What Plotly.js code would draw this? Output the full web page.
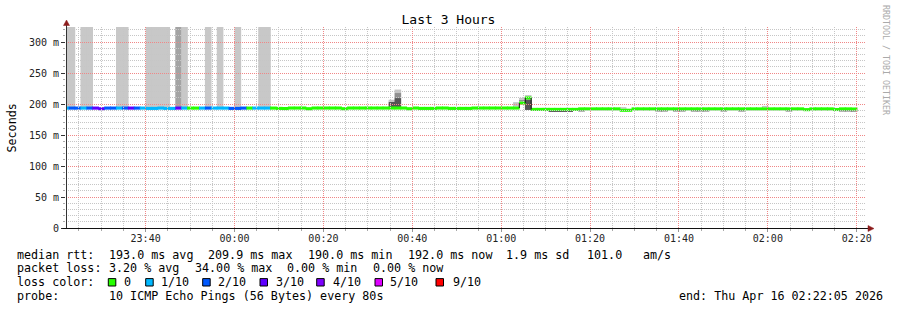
<!DOCTYPE html>
<html><head><meta charset="utf-8">
<script src="https://cdn.plot.ly/plotly-3.0.1.min.js"></script>
<style>html,body{margin:0;padding:0;background:#fff;}#chart{width:897px;height:310px;}</style>
</head><body><div id="chart"></div>
<script>
// ---- data (80 s steps, sample i ends at sampleEnd0 + i*80 s) ----
const sampleEnd0 = '2026-04-15T23:22:45Z';
const stepSeconds = 80;
const viewStart = '2026-04-15T23:22:05Z';
const viewEnd = '2026-04-16T02:22:05Z';

const medianRtt = [
 193.5,193.5,193.5,193.5,193.5,193.5,192.5,193.5,193.5,193.5,
 193.5,193.5,193.5,193.5,193,193,193.5,193,193,193.5,
 193.5,193.5,193.5,193.5,193.5,193.5,193.5,193.5,193,193,
 193.5,193.5,193.5,193.5,193.5,193.5,193,192.8,193.6,193.6,
 193.6,192.5,193.6,193.6,193.6,193.6,193.6,192.5,193.6,193.6,
 193.6,193.6,193.6,193.6,193.6,193.6,193.6,193.6,192.5,193.6,
 193,193,193,193.6,193.6,193,193,193,193,193.6,
 193.6,193.6,193.6,193.6,193.6,193.6,193.6,201.5,209.9,191.4,
 191.4,191.4,191.4,191.4,191.4,191.4,191.4,192.2,192.2,192.2,
 192.2,192.2,192.2,192.2,190,190,192.2,192.2,192.2,192.2,
 192.2,192.2,192.2,192.2,192.2,192.2,192.2,192.2,192.2,192.2,
 192.2,192.2,192.2,192.2,192.2,192.2,192.2,192.2,192.2,192.2,
 192.2,192.2,192.2,192.2,192.2,191,192.2,192.2,192.2,192.2,
 191.2,192.2,192.2,192
];
const lossCount = [
 1,2,2,1,2,3,3,2,2,1,
 2,3,2,1,1,1,1,1,1,3,
 1,0,0,1,2,1,1,1,2,2,
 2,0,1,1,1,0,0,0,0,0,
 0,0,0,0,0,0,0,0,0,0, 0,0,0,0,0,0,0,0,0,0,
 0,0,0,0,0,0,0,0,0,0, 0,0,0,0,0,0,0,0,0,0,
 0,0,0,0,0,0,0,0,0,0, 0,0,0,0,0,0,0,0,0,0,
 0,0,0,0,0,0,0,0,0,0, 0,0,0,0,0,0,0,0,0,0,
 0,0,0,0,0,0,0,0,0,0, 0,0,0,0
];
const lossLevels = [0,1,2,3,4,5,9];
const lossColors = ['#26ff00','#00b8ff','#0059ff','#5e00ff','#7e00ff','#dd00ff','#ff0000'];
const lossLabels = ['0','1/10','2/10','3/10','4/10','5/10','9/10'];

// smoke (ping spread) segments
const smokeIndex = [0,1,3,4,9,10,14,15,16,17,19,20,24,26,29,33,34,
  55,55,56,56,56,76,77,77,78,78,
  82,83,84,85,87,100,101,103,104,106,107,108,111,114,122,131,132,133,94,118];
const smokeLow = [195,195,195,195,195,195,195,195,195,195,195,195,195,195,195,195,195,
  195,203.7,195,209.7,217.8,196,204,207,190.5,212.4,
  187.3,187.3,187.3,187.3,188.1,188.1,188.1,188.1,188.1,188.1,188.1,188.1,188.1,188.1,188.1,188.1,188.1,187.9,192.5,194.7];
const smokeHigh = [330,330,330,330,330,330,330,330,330,330,330,330,330,330,330,330,330,
  203.7,207,209.7,217.8,223.4,203,207,210,207.4,214.5,
  189,189,189,189,189.8,189.8,189.8,189.8,189.8,189.8,189.8,189.8,189.8,189.8,189.8,189.8,189.8,189.6,195,197];
const smokeTone = ['loss','loss','loss','loss','loss','loss','loss','loss','loss','loss','lossDark','loss','loss','loss','loss','loss','loss',
  'dark','light','dark','mid','light','light','mid','light','dark','light',
  'dark','dark','dark','dark','dark','dark','dark','dark','dark','dark','dark','dark','dark','dark','dark','dark','dark','dark','light','light'];
const toneColor = {loss:'#c8c8c8', lossDark:'#a3a3a3', light:'#c4c4c4', mid:'#8f8f8f', dark:'#555555'};

const yTickVals = [0,50,100,150,200,250,300];
const yTickText = ['0','50 m','100 m','150 m','200 m','250 m','300 m'];

const statRows = [
  [['median rtt:',16],['193.0 ms avg',107.5],['209.9 ms max',207],['190.0 ms min',306.7],['192.0 ms now',406.5],['1.9 ms sd',505],['101.0',586],['am/s',642]],
  [['packet loss:',16],['3.20 % avg',107.5],['34.00 % max',193.5],['0.00 % min',286],['0.00 % now',372]],
  [['loss color:',16]],
  [['probe:',16],['10 ICMP Echo Pings (56 Bytes) every 80s',107.5],['end: Thu Apr 16 02:22:05 2026',677.7]]
];
const rowY = [255,268.3,282.3,296];
const boxX = [108.3,145.7,202.7,260,316.7,375,436];
const boxLabelX = [123.3,160,217.3,275.3,332.3,389.3,451.7];

// ---- build ----
const T0 = Date.parse(sampleEnd0);
const stepMs = stepSeconds*1000;
const xc = medianRtt.map((_, i) => T0 + (i - 0.5)*stepMs);
function lossColor(c){ let k=0; lossLevels.forEach((l,j)=>{ if(c>=l) k=j; }); return lossColors[k]; }

const L=66, W=800, TOP=27, BOT=228, H=BOT-TOP;
const yMax = H/0.6197;
const vs = Date.parse(viewStart), ve = Date.parse(viewEnd);
const px = x => (x-L)/W, py = y => (BOT-y)/H;
const MONO = 'DejaVu Sans Mono';

const smokeTrace = {
  type:'bar', x: smokeIndex.map(i=>xc[i]), base: smokeLow, y: smokeLow.map((lo,k)=>smokeHigh[k]-lo),
  width: stepMs*1.12, marker:{color: smokeTone.map(t=>toneColor[t]), line:{width:0}}, hoverinfo:'skip'
};
const bandHalf = 2.5;
const bandTrace = {
  type:'bar', x: xc, base: medianRtt.map(v=>v-bandHalf), y: medianRtt.map(()=>2*bandHalf),
  width: stepMs*1.12, marker:{color: lossCount.map(lossColor), line:{width:0}}, hoverinfo:'skip'
};
const cx=[], cy=[];
for(let i=1;i<medianRtt.length;i++){
  if(Math.abs(medianRtt[i]-medianRtt[i-1])>4){
    const xb = T0 + (i-1)*stepMs;
    cx.push(xb,xb,null); cy.push(medianRtt[i-1],medianRtt[i],null);
  }
}
const connTrace = {type:'scatter', mode:'lines', x:cx, y:cy, line:{color:'#111', width:1}, hoverinfo:'skip'};

// grid (drawn on top of the data, as rrdtool does), snapped to whole pixels
const gridX = [];
for(let t=Date.parse('2026-04-15T23:25:00Z'); t<=ve; t+=300000) gridX.push(t);
const isMajorX = t => new Date(t).getUTCMinutes() % 20 === 0;
const gridY = [];
for(let v=10; v<=yMax; v+=10) gridY.push(v);
const isMajorY = v => v % 50 === 0;
const gx = t => { const p = L + (t-vs)/(ve-vs)*W; return (Math.floor(p)+0.5-L)/W; };
const gy = v => { const p = BOT - v/yMax*H; return (BOT-(Math.floor(p)+0.5))/H; };
const minorGrid = 'rgb(198,198,198)', majorGrid = 'rgb(240,135,135)';

const shapes = [];
const hLine = (v,c) => ({type:'line', layer:'above', xref:'paper', yref:'paper', x0:0, x1:1, y0:gy(v), y1:gy(v), line:{color:c, width:1, dash:'1px,1px'}});
const vLine = (t,c) => ({type:'line', layer:'above', xref:'paper', yref:'paper', x0:gx(t), x1:gx(t), y0:0, y1:1, line:{color:c, width:1, dash:'1px,1px'}});
gridY.filter(v=>!isMajorY(v)).forEach(v=>shapes.push(hLine(v, minorGrid)));
gridX.filter(t=>!isMajorX(t)).forEach(t=>shapes.push(vLine(t, minorGrid)));
gridY.filter(isMajorY).forEach(v=>shapes.push(hLine(v, majorGrid)));
gridX.filter(isMajorX).forEach(t=>shapes.push(vLine(t, majorGrid)));

lossColors.forEach((c,k)=>shapes.push({type:'rect', xref:'paper', yref:'paper',
  x0:px(boxX[k]), x1:px(boxX[k]+7.5), y0:py(rowY[2]+3.7), y1:py(rowY[2]-3.7),
  fillcolor:c, line:{color:'#000', width:1}}));
// axes and arrows
shapes.push({type:'line', xref:'paper', yref:'paper', x0:px(66.5), x1:px(66.5), y0:py(BOT), y1:py(23), line:{color:'#333', width:1}});
shapes.push({type:'line', xref:'paper', yref:'paper', x0:px(62.5), x1:px(869), y0:py(BOT+0.5), y1:py(BOT+0.5), line:{color:'#111', width:1}});
const arrowColor = '#8c1c1c';
shapes.push({type:'path', xref:'paper', yref:'paper',
  path:`M ${px(63.5)} ${py(25.5)} L ${px(69.5)} ${py(25.5)} L ${px(66.5)} ${py(20)} Z`, fillcolor:arrowColor, line:{color:arrowColor, width:0.5}});
shapes.push({type:'path', xref:'paper', yref:'paper',
  path:`M ${px(868)} ${py(225.5)} L ${px(868)} ${py(231.5)} L ${px(874)} ${py(228.5)} Z`, fillcolor:arrowColor, line:{color:arrowColor, width:0.5}});

const annotations = [];
statRows.forEach((row,r)=>row.forEach(([t,x])=>annotations.push({
  text:t, xref:'paper', yref:'paper', x:px(x), y:py(rowY[r]), xanchor:'left', yanchor:'middle',
  showarrow:false, borderpad:0, font:{family:MONO, size:11.7, color:'#000'}
})));
lossLabels.forEach((t,k)=>annotations.push({
  text:t, xref:'paper', yref:'paper', x:px(boxLabelX[k]), y:py(rowY[2]), xanchor:'left', yanchor:'middle',
  showarrow:false, borderpad:0, font:{family:MONO, size:11.7, color:'#000'}
}));
annotations.push({text:'Seconds', xref:'paper', yref:'paper', x:px(11), y:py(127.5), textangle:-90,
  xanchor:'center', yanchor:'middle', showarrow:false, font:{family:MONO, size:11.7, color:'#000'}});
annotations.push({text:'RRDTOOL / TOBI OETIKER', xref:'paper', yref:'paper', x:px(886), y:py(60), textangle:90,
  xanchor:'center', yanchor:'middle', showarrow:false, font:{family:MONO, size:8.3, color:'#aaaaaa'}});

const layout = {
  width:897, height:310, margin:{l:L, r:897-L-W, t:TOP, b:310-BOT, pad:0},
  paper_bgcolor:'#fff', plot_bgcolor:'#fff', showlegend:false, barmode:'overlay',
  font:{family:MONO, size:10, color:'#222'},
  title:{text:'Last 3 Hours', font:{family:MONO, size:13, color:'#000'}, x:0.5, xref:'container', xanchor:'center',
         y:1-19/310, yref:'container', yanchor:'middle'},
  xaxis:{type:'date', range:[vs, ve], tickmode:'linear', tick0:'2026-04-16 00:00:00', dtick:1200000,
    tickformat:'%H:%M', showgrid:false, ticklabelstandoff:-2,
    ticks:'outside', ticklen:3, tickcolor:'#999', tickfont:{family:MONO, size:10, color:'#222'},
    showline:false, zeroline:false, fixedrange:true,
    minor:{tickmode:'linear', tick0:'2026-04-16 00:00:00', dtick:300000, showgrid:false, ticks:'outside', ticklen:2, tickcolor:'#aaa'}},
  yaxis:{range:[0, yMax], tickmode:'array', tickvals:yTickVals, ticktext:yTickText,
    showgrid:false, ticks:'outside', ticklen:4, tickcolor:'#333',
    tickfont:{family:MONO, size:10, color:'#222'}, showline:false, zeroline:false, fixedrange:true,
    minor:{tickmode:'linear', tick0:0, dtick:10, showgrid:false, ticks:'outside', ticklen:2, tickcolor:'#aaa'}},
  shapes, annotations
};
Plotly.newPlot('chart', [smokeTrace, bandTrace, connTrace], layout, {displayModeBar:false, staticPlot:true});
</script></body></html>
